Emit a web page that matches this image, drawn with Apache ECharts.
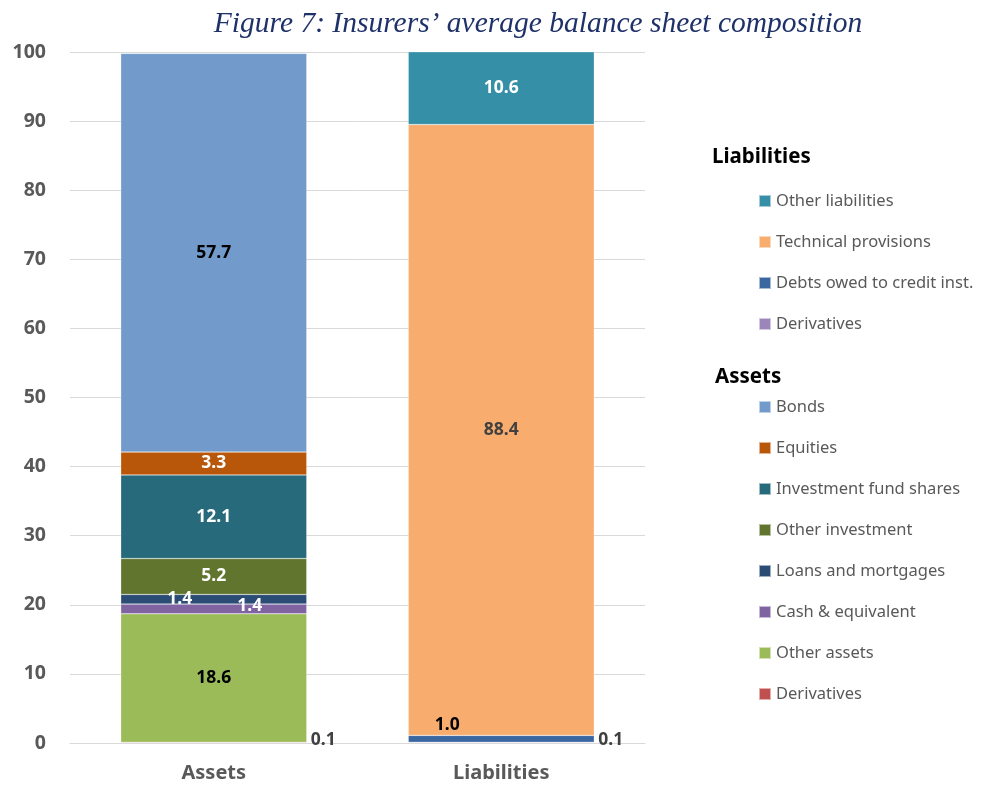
<!DOCTYPE html>
<html>
<head>
<meta charset="utf-8">
<script src="https://cdn.jsdelivr.net/npm/echarts@6/dist/echarts.min.js"></script>
<style>html,body{margin:0;padding:0;background:#fff}#c{width:981px;height:787px}</style>
</head>
<body>
<div id="c"></div>
<script>
const categories = ['Assets', 'Liabilities'];
const yTicks = [0, 10, 20, 30, 40, 50, 60, 70, 80, 90, 100];
// values per category [Assets, Liabilities]
const derivativesAssets   = [0.1, '-'];
const otherAssets         = [18.6, '-'];
const cashEquivalent      = [1.4, '-'];
const loansMortgages      = [1.4, '-'];
const otherInvestment     = [5.2, '-'];
const investmentFund      = [12.1, '-'];
const equities            = [3.3, '-'];
const bonds               = [57.7, '-'];
const derivativesLiab     = ['-', 0.1];
const debtsCredit         = ['-', 1.0];
const technicalProvisions = ['-', 88.4];
const otherLiabilities    = ['-', 10.6];

const liabilityLegend = ['Other liabilities', 'Technical provisions', 'Debts owed to credit inst.', 'Derivatives (L)'];
const assetLegend = ['Bonds', 'Equities', 'Investment fund shares', 'Other investment', 'Loans and mortgages', 'Cash & equivalent', 'Other assets', 'Derivatives (A)'];

const FONT = 'Noto Sans';
function lbl(color, extra) {
  return Object.assign({show: true, color: color, fontFamily: FONT, fontWeight: 'bold', fontSize: 17.5,
    formatter: p => Number(p.value).toFixed(1)}, extra || {});
}
function s(name, data, color, label) {
  return {name: name, type: 'bar', stack: 'total', data: data, barWidth: '64.7%',
    itemStyle: {color: color, borderColor: 'rgba(255,255,255,0.55)', borderWidth: 0.5},
    label: label, emphasis: {disabled: true}};
}
const chart = echarts.init(document.getElementById('c'));
chart.setOption({
  animation: false,
  title: {text: 'Figure 7: Insurers’ average balance sheet composition', left: 533, textAlign: 'center', top: 4,
    textStyle: {fontFamily: 'Liberation Serif', fontStyle: 'italic', fontWeight: 'normal', fontSize: 29.5, color: '#1f3169'}},
  grid: {left: 70, right: 336, top: 52, bottom: 44, containLabel: false},
  xAxis: {type: 'category', data: categories, axisTick: {show: false},
    axisLine: {lineStyle: {color: '#d9d9d9'}},
    axisLabel: {color: '#595959', fontFamily: FONT, fontWeight: 'bold', fontSize: 20, margin: 20}},
  yAxis: {type: 'value', min: 0, max: 100, interval: 10,
    axisLabel: {color: '#595959', fontFamily: FONT, fontWeight: 'bold', fontSize: 19.5, margin: 24,
      formatter: v => yTicks.includes(v) ? String(v) : ''},
    splitLine: {lineStyle: {color: '#d9d9d9'}}},
  legend: [
    {data: liabilityLegend, orient: 'vertical', left: 758, top: 191, padding: 0, itemWidth: 12, itemHeight: 12,
     itemGap: 21, icon: 'rect', selectedMode: false, formatter: n => n.replace(/ \([AL]\)$/, ''),
     textStyle: {fontFamily: FONT, fontSize: 16.5, color: '#595959', lineHeight: 20}},
    {data: assetLegend, orient: 'vertical', left: 758, top: 397, padding: 0, itemWidth: 12, itemHeight: 12,
     itemGap: 21, icon: 'rect', selectedMode: false, formatter: n => n.replace(/ \([AL]\)$/, ''),
     textStyle: {fontFamily: FONT, fontSize: 16.5, color: '#595959', lineHeight: 20}}
  ],
  graphic: [
    {type: 'text', left: 712, top: 147, style: {text: 'Liabilities', fontFamily: FONT, fontWeight: 'bold', fontSize: 20.5, fill: '#000'}},
    {type: 'text', left: 715, top: 367, style: {text: 'Assets', fontFamily: FONT, fontWeight: 'bold', fontSize: 20.5, fill: '#000'}}
  ],
  series: [
    s('Derivatives (A)', derivativesAssets, '#c0504d', lbl('#404040', {position: 'right', distance: 4, offset: [0, -3]})),
    s('Other assets', otherAssets, '#9bbb59', lbl('#000')),
    s('Cash & equivalent', cashEquivalent, '#8064a2', lbl('#fff', {offset: [36, -3]})),
    s('Loans and mortgages', loansMortgages, '#2b4c74', lbl('#fff', {offset: [-34, 0]})),
    s('Other investment', otherInvestment, '#62752f', lbl('#fff')),
    s('Investment fund shares', investmentFund, '#276a7c', lbl('#fff')),
    s('Equities', equities, '#b8560a', lbl('#fff')),
    s('Bonds', bonds, '#729acb', lbl('#000')),
    s('Derivatives (L)', derivativesLiab, '#9c85b8', lbl('#404040', {position: 'right', distance: 4, offset: [0, -3]})),
    s('Debts owed to credit inst.', debtsCredit, '#3a67a0', lbl('#000', {position: 'top', distance: 1, offset: [-54, 0]})),
    s('Technical provisions', technicalProvisions, '#f8ac6d', lbl('#404040')),
    s('Other liabilities', otherLiabilities, '#358fa6', lbl('#fff'))
  ]
});
</script>
</body>
</html>
